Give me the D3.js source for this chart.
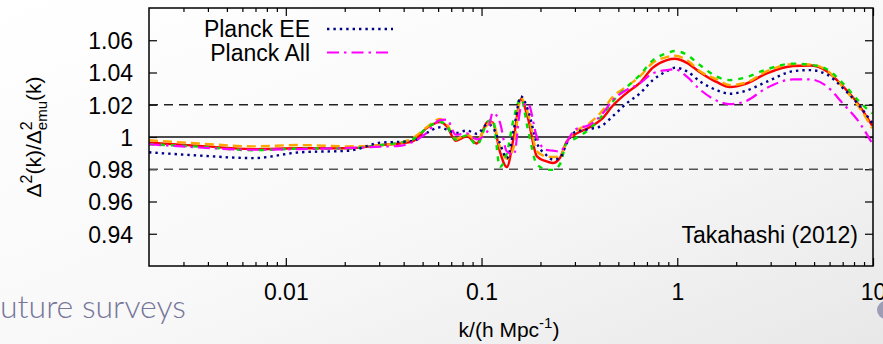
<!DOCTYPE html>
<html>
<head>
<meta charset="utf-8">
<script src="https://cdn.jsdelivr.net/npm/d3@7"></script>
<style>
  html, body { margin: 0; padding: 0; background: #fff; }
  svg { display: block; font-family: "Liberation Sans", Arial, Helvetica, sans-serif; }
</style>
</head>
<body>
<script>
// k in h/Mpc (shared grid for every curve)
const kValues = [0.002, 0.0036, 0.0068, 0.0118, 0.021, 0.031, 0.0382, 0.0446, 0.0525, 0.0612,
  0.0665, 0.0739, 0.0841, 0.0946, 0.1077, 0.1142, 0.1241, 0.1347, 0.1463, 0.1588,
  0.1724, 0.1918, 0.2131, 0.2314, 0.2513, 0.273, 0.2998, 0.357, 0.412, 0.469,
  0.553, 0.644, 0.75, 0.885, 0.972, 1.12, 1.305, 1.594, 1.857, 2.216,
  2.87, 3.9, 4.76, 5.81, 7.0, 8.57, 9.9];

const redRatio = [0.9965, 0.9945, 0.9925, 0.993, 0.993, 0.995, 0.996, 0.9975, 1.0055, 1.0092,
  1.0066, 0.9977, 1.0004, 0.996, 1.0097, 1.009, 0.991, 0.9814, 1.0004, 1.0235,
  1.012, 0.988, 0.985, 0.9839, 0.987, 0.9975, 1.0015, 1.006, 1.0112, 1.0195,
  1.0274, 1.0336, 1.043, 1.0477, 1.0485, 1.046, 1.0402, 1.034, 1.031, 1.0328,
  1.0395, 1.044, 1.0443, 1.0408, 1.0316, 1.019, 1.007];

const orangeRatio = [0.998, 0.996, 0.9942, 0.995, 0.9942, 0.995, 0.9963, 0.9994, 1.006, 1.0112,
  1.008, 0.9988, 1.0014, 0.998, 1.0078, 1.0087, 0.994, 0.9865, 0.9942, 1.0242,
  1.015, 0.9911, 0.988, 0.9876, 0.988, 0.997, 1.003, 1.0087, 1.0159, 1.025,
  1.0314, 1.0376, 1.046, 1.0496, 1.0504, 1.0477, 1.0408, 1.0357, 1.0322, 1.0335,
  1.0408, 1.0452, 1.045, 1.0413, 1.031, 1.0178, 1.0055];

const greenRatio = [0.9955, 0.994, 0.9918, 0.9928, 0.993, 0.995, 0.9965, 0.9985, 1.0055, 1.0095,
  1.007, 0.9983, 1.001, 0.995, 1.0095, 1.011, 0.9815, 0.99, 1.012, 1.024,
  1.005, 0.983, 0.98, 0.9796, 0.983, 0.9965, 0.999, 1.005, 1.013, 1.0221,
  1.031, 1.0385, 1.0475, 1.052, 1.0533, 1.051, 1.0446, 1.0374, 1.0353, 1.0368,
  1.042, 1.0455, 1.0448, 1.042, 1.0335, 1.0215, 1.0147];

const planckEE = [0.9905, 0.9885, 0.9869, 0.9905, 0.9915, 0.9966, 0.997, 0.9975, 1.0025, 1.006,
  1.0045, 1.0025, 1.004, 1.002, 1.008, 1.006, 0.996, 0.9868, 1.005, 1.0252,
  1.017, 0.9963, 0.989, 0.986, 0.987, 0.9963, 1.003, 1.005, 1.007, 1.013,
  1.021, 1.027, 1.0353, 1.0408, 1.0429, 1.0408, 1.0345, 1.029, 1.0268, 1.0285,
  1.0343, 1.0408, 1.0415, 1.0388, 1.0305, 1.019, 1.0087];

const planckAll = [0.9955, 0.9935, 0.9921, 0.9925, 0.9932, 0.994, 0.9945, 0.997, 1.0025, 1.0105,
  1.0108, 1.0014, 1.0022, 0.9985, 1.004, 1.015, 1.009, 0.991, 0.989, 1.018,
  1.021, 1.0, 0.992, 0.9915, 0.991, 0.997, 1.0045, 1.0076, 1.014, 1.023,
  1.0293, 1.0333, 1.0395, 1.0415, 1.042, 1.0374, 1.0295, 1.0225, 1.0204, 1.022,
  1.0305, 1.0357, 1.0357, 1.0314, 1.0209, 1.0085, 0.996];

const xTickValues = [0.01, 0.1, 1, 10];
const yTickValues = [0.94, 0.96, 0.98, 1, 1.02, 1.04, 1.06];
const refLevels = [1.02, 1, 0.98];
const legendNames = ['Planck EE', 'Planck All'];

const width = 883;
const height = 344;
const plot = { left: 149, top: 8, right: 873, bottom: 266 };

const svg = d3.select('body')
  .append('svg')
  .attr('width', width)
  .attr('height', height);

// slide background
const defs = svg.append('defs');
const grad = defs.append('linearGradient')
  .attr('id', 'bg')
  .attr('x1', '0').attr('y1', '0').attr('x2', '1').attr('y2', '1');
grad.append('stop').attr('offset', '0%').attr('stop-color', '#ffffff');
grad.append('stop').attr('offset', '55%').attr('stop-color', '#f8f8f8');
grad.append('stop').attr('offset', '100%').attr('stop-color', '#e8e8e8');
svg.append('rect').attr('width', width).attr('height', height).attr('fill', 'url(#bg)');

defs.append('clipPath').attr('id', 'clip')
  .append('rect')
  .attr('x', plot.left).attr('y', plot.top)
  .attr('width', plot.right - plot.left).attr('height', plot.bottom - plot.top);

svg.append('text')
  .attr('x', 0)
  .attr('y', 318)
  .style('font-family', 'Lato, "DejaVu Sans", sans-serif')
  .style('font-size', '32px')
  .style('font-weight', 300)
  .attr('fill', '#76769a')
  .text('uture surveys');

svg.append('circle')
  .attr('cx', 886).attr('cy', 310).attr('r', 9)
  .attr('fill', '#9d9db6');

const x = d3.scaleLog().domain([0.002, 10]).range([plot.left, plot.right]);
const y = d3.scaleLinear().domain([0.92, 1.08]).range([plot.bottom, plot.top]);

// minor ticks 2..9 per decade
const minorTicks = [];
[0.001, 0.01, 0.1, 1].forEach(dec => {
  for (let m = 2; m <= 9; m++) {
    const v = dec * m;
    if (v > 0.002 && v < 10) minorTicks.push(v);
  }
});

const tickFont = '23px';
const fmtY = d => (d === 1 ? '1' : d3.format('.2f')(d));

function styleAxis(g) {
  g.select('.domain').remove();
  g.selectAll('line').attr('stroke', '#000').attr('stroke-width', 1.2);
  g.selectAll('text').style('font-size', tickFont).attr('fill', '#000');
}

svg.append('g')
  .attr('transform', `translate(0,${plot.bottom})`)
  .call(d3.axisBottom(x).tickValues(xTickValues).tickFormat(d3.format('~g')).tickSize(-8).tickPadding(18))
  .call(styleAxis);
svg.append('g')
  .attr('transform', `translate(0,${plot.bottom})`)
  .call(d3.axisBottom(x).tickValues(minorTicks).tickFormat('').tickSize(-4))
  .call(styleAxis);
svg.append('g')
  .attr('transform', `translate(0,${plot.top})`)
  .call(d3.axisTop(x).tickValues(xTickValues).tickFormat('').tickSize(-8))
  .call(styleAxis);
svg.append('g')
  .attr('transform', `translate(0,${plot.top})`)
  .call(d3.axisTop(x).tickValues(minorTicks).tickFormat('').tickSize(-4))
  .call(styleAxis);
svg.append('g')
  .attr('transform', `translate(${plot.left},0)`)
  .call(d3.axisLeft(y).tickValues(yTickValues).tickFormat(fmtY).tickSize(-8).tickPadding(16))
  .call(styleAxis)
  .selectAll('text').attr('dy', '0.36em');
svg.append('g')
  .attr('transform', `translate(${plot.right},0)`)
  .call(d3.axisRight(y).tickValues(yTickValues).tickFormat('').tickSize(-8))
  .call(styleAxis);

// reference lines
const refStyle = {
  1.02: { stroke: '#222', dash: '9,6' },
  1: { stroke: '#111', dash: null },
  0.98: { stroke: '#555', dash: '9,6' }
};
svg.append('g').selectAll('line')
  .data(refLevels)
  .enter()
  .append('line')
  .attr('x1', plot.left).attr('x2', plot.right)
  .attr('y1', d => y(d)).attr('y2', d => y(d))
  .attr('stroke', d => refStyle[d].stroke)
  .attr('stroke-width', 1.5)
  .attr('stroke-dasharray', d => refStyle[d].dash);

// curves
const series = [
  { values: redRatio, color: '#ff0000', dash: null, w: 2.4 },
  { values: orangeRatio, color: '#ffa500', dash: '9,5', w: 2.4 },
  { values: greenRatio, color: '#00e000', dash: '5,6', w: 2.4 },
  { values: planckEE, color: '#00008b', dash: '2.4,4', w: 2.4 },
  { values: planckAll, color: '#ff00ff', dash: '12,5,2.5,5', w: 2.2 }
];

const line = d3.line()
  .x(d => x(d[0]))
  .y(d => y(d[1]))
  .curve(d3.curveMonotoneX);

svg.append('g')
  .attr('clip-path', 'url(#clip)')
  .selectAll('path')
  .data(series)
  .enter()
  .append('path')
  .attr('d', s => line(kValues.map((k, i) => [k, s.values[i]])))
  .attr('fill', 'none')
  .attr('stroke', s => s.color)
  .attr('stroke-width', s => s.w)
  .attr('stroke-dasharray', s => s.dash)
  .attr('stroke-linejoin', 'round');

// frame
svg.append('rect')
  .attr('x', plot.left).attr('y', plot.top)
  .attr('width', plot.right - plot.left).attr('height', plot.bottom - plot.top)
  .attr('fill', 'none')
  .attr('stroke', '#000')
  .attr('stroke-width', 1.5);

// legend
const legendSeries = [series[3], series[4]];
const legend = svg.append('g');
legendNames.forEach((name, i) => {
  const cy = 29 + i * 23.5;
  legend.append('text')
    .attr('x', 310).attr('y', cy + 8)
    .attr('text-anchor', 'end')
    .style('font-size', tickFont)
    .text(name);
  legend.append('line')
    .attr('x1', 327).attr('x2', 393)
    .attr('y1', cy).attr('y2', cy)
    .attr('stroke', legendSeries[i].color)
    .attr('stroke-width', legendSeries[i].w)
    .attr('stroke-dasharray', legendSeries[i].dash);
});

svg.append('text')
  .attr('x', 858).attr('y', 243)
  .attr('text-anchor', 'end')
  .style('font-size', tickFont)
  .text('Takahashi (2012)');

// axis titles
const xTitle = svg.append('text')
  .attr('x', 509).attr('y', 337)
  .attr('text-anchor', 'middle')
  .style('font-size', '21px');
xTitle.append('tspan').text('k/(h Mpc');
xTitle.append('tspan').attr('dy', -9).style('font-size', '15px').text('-1');
xTitle.append('tspan').attr('dy', 9).text(')');

const yTitle = svg.append('text')
  .attr('transform', 'translate(41,137) rotate(-90)')
  .attr('text-anchor', 'middle')
  .style('font-size', '21px');
yTitle.append('tspan').text('\u0394');
yTitle.append('tspan').attr('dy', -9).style('font-size', '16px').text('2');
yTitle.append('tspan').attr('dy', 9).text('(k)/\u0394');
yTitle.append('tspan').attr('dy', -9).style('font-size', '16px').text('2');
yTitle.append('tspan').attr('dx', -8.9).attr('dy', 15).style('font-size', '15px').text('emu');
yTitle.append('tspan').attr('dy', -6).text('(k)');
</script>
</body>
</html>
